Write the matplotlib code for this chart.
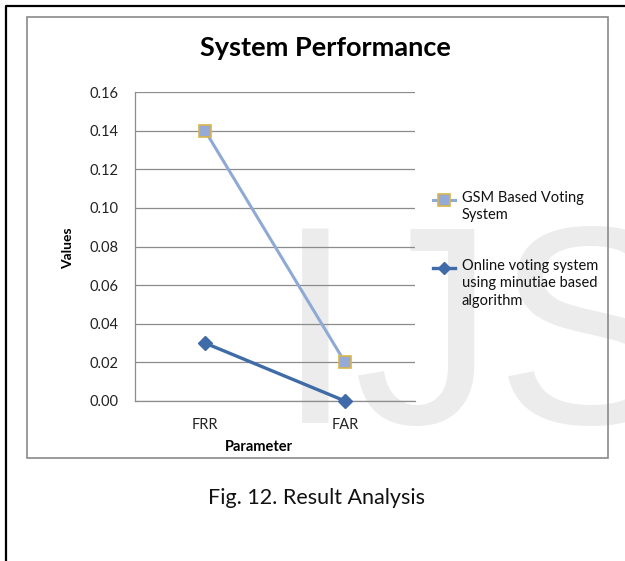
import matplotlib.pyplot as plt
from matplotlib.lines import Line2D
from matplotlib.patches import Rectangle

# data
params = ['FRR', 'FAR']
gsm_vals = [0.14, 0.02]
online_vals = [0.03, 0.00]
series_names = ['GSM Based Voting\nSystem',
                'Online voting system\nusing minutiae based\nalgorithm']
yticks = [0.00, 0.02, 0.04, 0.06, 0.08, 0.10, 0.12, 0.14, 0.16]

W, H = 625, 561
FONT = ['Lato', 'DejaVu Sans']


def fx(px):
    return px / W


def fy(py):
    return 1 - py / H


fig = plt.figure(figsize=(W / 100, H / 100), dpi=100)

# page frame and chart frame
fig.add_artist(Line2D([fx(6), fx(6), fx(W)], [fy(H), fy(6), fy(6)],
                      transform=fig.transFigure, color='black', lw=1.6))
fig.add_artist(Rectangle((fx(27), fy(458)), fx(608) - fx(27), fy(17) - fy(458),
                         transform=fig.transFigure, fill=False,
                         edgecolor='#8a8a8a', lw=1.2))

# watermark
fig.text(fx(276), fy(423), 'IJS', fontsize=204, color='#ececec',
         family='Liberation Sans', va='baseline', ha='left', zorder=-1)

ax = fig.add_axes([fx(135), fy(401), fx(415) - fx(135), fy(92) - fy(401)])
ax.patch.set_alpha(0)

x = [i + 0.5 for i in range(len(params))]
gsm_color = '#8eaad4'
online_color = '#3f6ca8'
gsm_style = dict(color=gsm_color, lw=2.2, marker='s', ms=8,
                 mfc='#95aad6', mec='#d9b64a', mew=1.2)
online_style = dict(color=online_color, lw=2.4, marker='D', ms=7,
                    mfc=online_color, mec=online_color)
ax.plot(x, gsm_vals, zorder=3, **gsm_style)
ax.plot(x, online_vals, zorder=4, clip_on=False, **online_style)

ax.set_xlim(0, len(params))
ax.set_ylim(0, 0.16)
ax.set_yticks(yticks)
ax.set_yticklabels(['%.2f' % v for v in yticks])
ax.set_xticks(x)
ax.set_xticklabels(params)
ax.tick_params(length=0, labelsize=10.5, colors='#222222')
ax.tick_params(axis='y', pad=12)
ax.tick_params(axis='x', pad=12)
for lab in ax.get_xticklabels() + ax.get_yticklabels():
    lab.set_family(FONT)

ax.grid(axis='y', color='#8c8c8c', lw=0.9)
ax.set_axisbelow(True)
for s in ['top', 'right']:
    ax.spines[s].set_visible(False)
for s in ['left', 'bottom']:
    ax.spines[s].set_color('#8c8c8c')
    ax.spines[s].set_linewidth(0.9)

# titles and axis names
fig.text(fx(325), fy(48), 'System Performance', fontsize=19.5, fontweight='bold',
         family=FONT, ha='center', va='center')
fig.text(fx(68), fy(248), 'Values', fontsize=10, fontweight='bold',
         family=FONT, ha='center', va='center', rotation=90)
fig.text(fx(259), fy(447), 'Parameter', fontsize=10.5, fontweight='bold',
         family=FONT, ha='center', va='center')

# legend on the right: line sample with one marker in the middle
legend_rows = [200, 268]
for name, row, st in zip(series_names, legend_rows, [gsm_style, online_style]):
    line_only = {k: v for k, v in st.items()
                 if k in ('color', 'lw')}
    marker_only = {k: v for k, v in st.items() if k != 'lw'}
    if marker_only['marker'] == 'D':
        marker_only['ms'] = 6
    fig.add_artist(Line2D([fx(433), fx(455)], [fy(row), fy(row)],
                          transform=fig.transFigure, **line_only))
    fig.add_artist(Line2D([fx(444)], [fy(row)], transform=fig.transFigure,
                          linestyle='none', **marker_only))
    fig.text(fx(462), fy(row - 9), name, fontsize=10.5, family=FONT,
             ha='left', va='top', linespacing=1.3, color='#111111')

# caption
fig.text(fx(317), fy(498), 'Fig. 12. Result Analysis', fontsize=15.5,
         family=FONT, ha='center', va='center', color='#111111')

fig.savefig('out.png', dpi=100)
